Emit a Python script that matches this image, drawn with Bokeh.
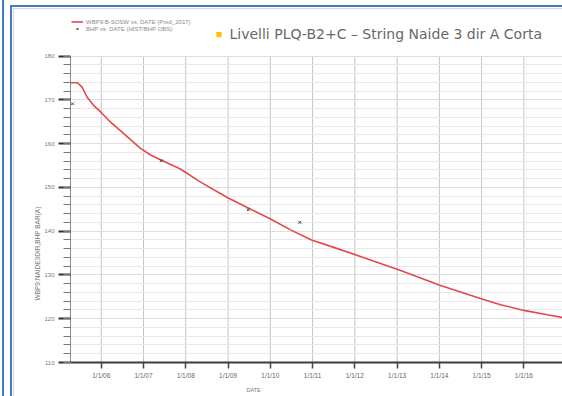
import numpy as np
import pandas as pd
from bokeh.plotting import figure
from bokeh.models import (FixedTicker, Legend, LegendItem, Range1d, Title, InlineStyleSheet)
from bokeh.embed import file_html
from bokeh.resources import INLINE

# ---- data ----
pred_dates = ["2005-04-10", "2005-06-09", "2005-07-19", "2005-09-01", "2005-10-28", "2005-12-25",
              "2006-03-22", "2006-06-17", "2006-09-11", "2006-12-06", "2007-03-03", "2007-05-28",
              "2007-11-16", "2008-05-08", "2008-12-25", "2009-06-16", "2010-01-03", "2010-06-25",
              "2010-12-23", "2011-07-03", "2012-01-07", "2012-08-10", "2013-01-31", "2014-01-11",
              "2014-12-22", "2015-06-14", "2016-01-01", "2016-07-21", "2016-11-28"]
pred_bhp = [173.9, 173.9, 172.9, 170.6, 168.7, 167.3,
            164.9, 162.9, 160.9, 158.9, 157.4, 156.3,
            154.2, 151.2, 147.7, 145.4, 142.8, 140.3,
            138.0, 136.3, 134.6, 132.6, 131.0, 127.6,
            124.6, 123.2, 121.9, 120.9, 120.3]

hist_dates = ["2005-04-27", "2007-06-03", "2009-06-24", "2010-09-13"]
hist_bhp = [169.1, 156.1, 144.9, 142.0]

x_tick_dates = ["2006-01-01", "2007-01-01", "2008-01-01", "2009-01-01", "2010-01-01", "2011-01-01",
                "2012-01-01", "2013-01-01", "2014-01-01", "2015-01-01", "2016-01-01"]
x_tick_labels = ["1/1/06", "1/1/07", "1/1/08", "1/1/09", "1/1/10", "1/1/11",
                 "1/1/12", "1/1/13", "1/1/14", "1/1/15", "1/1/16"]
y_major = [110, 120, 130, 140, 150, 160, 170, 180]
y_minor = list(range(110, 181, 2))

title_text = "Livelli PLQ-B2+C \u2013 String Naide 3 dir A Corta"
legend_labels = ["WBP9:B-SOSW vs. DATE (Pred_2017)", "BHP vs. DATE (HIST/BHP OBS)"]
y_label = "WBP9:NAIDE3DIR,BHP  BAR(A)"
x_label = "DATE"

# ---- figure ----
W, H = 562, 396
FL, FB = 70, 34                  # frame left / bottom border (frame reaches the top)
Y_TOP = 192.7                    # headroom above the 180 line holds the slide heading

def ms(d):
    return pd.Timestamp(d).value / 1e6

slide_css = InlineStyleSheet(css="""
:host {
  background:
    linear-gradient(#4a76c6, #4a76c6) 2px 0 / 2px 100% no-repeat,
    linear-gradient(#4a76c6, #4a76c6) 10px 5px / 2px 100% no-repeat,
    linear-gradient(#4a76c6, #4a76c6) 10px 5px / 100% 2px no-repeat,
    linear-gradient(#d6d6d6, #d6d6d6) 13px 8px / 1px 100% no-repeat,
    linear-gradient(#d6d6d6, #d6d6d6) 13px 8px / 100% 1px no-repeat,
    #ffffff;
}
""")

p = figure(width=W, height=H, output_backend="svg", toolbar_location=None,
           x_axis_type="datetime",
           x_range=Range1d(ms("2005-04-10"), ms("2016-11-30")),
           y_range=Range1d(y_major[0], Y_TOP),
           min_border_left=FL, min_border_right=0, min_border_top=0, min_border_bottom=FB,
           background_fill_alpha=0, border_fill_alpha=0)
p.stylesheets = [slide_css]
p.outline_line_color = None

tick_ms = [ms(d) for d in x_tick_dates]
p.xaxis.ticker = FixedTicker(ticks=tick_ms)
p.xaxis.major_label_overrides = {t: lab for t, lab in zip(tick_ms, x_tick_labels)}
p.xaxis.axis_line_color = "#3c3c3c"
p.xaxis.axis_line_width = 2
p.xaxis.major_tick_out = 6
p.xaxis.major_tick_in = 0
p.xaxis.major_tick_line_width = 1.5
p.xaxis.major_tick_line_color = "#444444"
p.xaxis.minor_tick_line_color = None
p.xaxis.major_label_text_font = "Liberation Sans"
p.xaxis.major_label_text_font_size = "6.5px"
p.xaxis.major_label_text_color = "#666666"
p.xaxis.major_label_standoff = 3

p.yaxis.ticker = FixedTicker(ticks=y_major, minor_ticks=y_minor)
p.yaxis.bounds = (y_major[0], y_major[-1])
p.yaxis.axis_line_color = "#8a8a8a"
p.yaxis.axis_line_width = 1
p.yaxis.major_tick_out = 12
p.yaxis.major_tick_in = 0
p.yaxis.major_tick_line_width = 2
p.yaxis.major_tick_line_color = "#333333"
p.yaxis.minor_tick_out = 7
p.yaxis.minor_tick_in = 0
p.yaxis.minor_tick_line_color = "#777777"
p.yaxis.major_label_text_font = "Liberation Sans"
p.yaxis.major_label_text_font_size = "6px"
p.yaxis.major_label_text_color = "#7a7a7a"
p.yaxis.major_label_standoff = 4

# vertical grid only over the plotted band (110..180)
p.xgrid.grid_line_color = None
vgrid = p.segment(x0=tick_ms, y0=[y_major[0]] * len(tick_ms),
                  x1=tick_ms, y1=[y_major[-1]] * len(tick_ms),
                  line_color="#c4c4c4", line_width=1)
vgrid.level = "underlay"
p.ygrid.grid_line_color = "#dedede"
p.ygrid.minor_grid_line_color = "#e8e8e8"

pred_x = [pd.Timestamp(d) for d in pred_dates]
hist_x = [pd.Timestamp(d) for d in hist_dates]
line_r = p.line(pred_x, pred_bhp, line_color="#e4484e", line_width=1.6)
scat_r = p.scatter(hist_x, hist_bhp, marker="x", size=4, line_color="#444444", line_width=1)
# swatch-only renderer for the yellow heading bullet (no visible point)
bullet_r = p.scatter(x=[np.nan], y=[np.nan], marker="square", fill_color="#ffc000",
                     line_color=None)

FBOT = H - FB   # frame bottom in canvas pixels
# series legend (top-left)
legend = Legend(items=[LegendItem(label=legend_labels[0], renderers=[line_r]),
                       LegendItem(label=legend_labels[1], renderers=[scat_r])],
                location=(1, FBOT - 18 - 14), orientation="vertical",
                label_text_font="Liberation Sans", label_text_font_size="6px",
                label_text_color="#8a8a8a", background_fill_alpha=0, border_line_alpha=0,
                padding=0, margin=0, spacing=0, glyph_width=12, glyph_height=7,
                label_height=7, label_standoff=3)
p.add_layout(legend)

# slide heading: yellow bullet + text
heading = Legend(items=[LegendItem(label=title_text, renderers=[bullet_r])],
                 location=(141.5, FBOT - 25.5 - 16), orientation="vertical",
                 label_text_font="DejaVu Sans", label_text_font_size="14px",
                 label_text_color="#686868", label_text_baseline="middle",
                 background_fill_alpha=0, border_line_alpha=0,
                 padding=0, margin=0, spacing=0, glyph_width=13, glyph_height=16,
                 label_height=16, label_standoff=5)
p.add_layout(heading)

# axis titles
p.add_layout(Title(text=y_label, align="left", offset=62, standoff=2,
                   text_font="Liberation Sans", text_font_size="6.5px",
                   text_color="#7a7a7a", text_font_style="normal"), "left")
p.add_layout(Title(text=x_label, align="left", offset=176, standoff=7,
                   text_font="Liberation Sans", text_font_size="5.5px",
                   text_color="#7a7a7a", text_font_style="normal"), "below")

open("out.html", "w").write(file_html(p, INLINE))
